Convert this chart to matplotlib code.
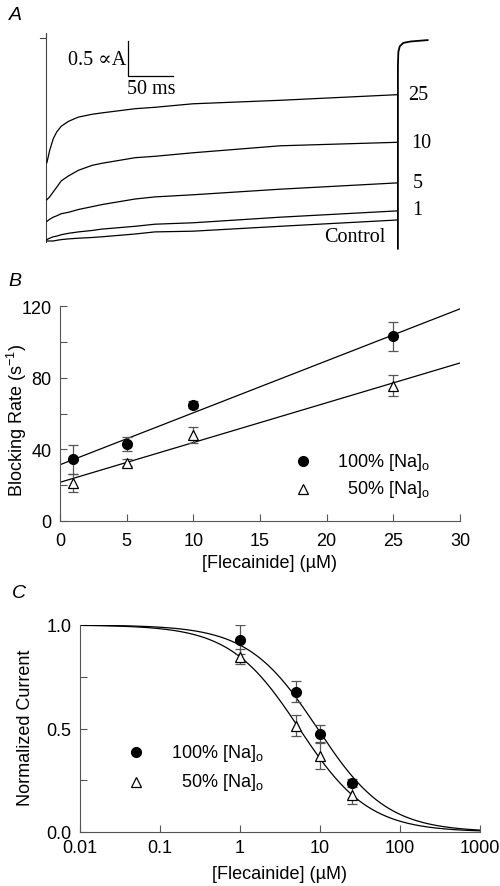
import numpy as np
import matplotlib
matplotlib.use("Agg")
import matplotlib.pyplot as plt

plt.rcParams['font.family'] = ['Liberation Sans', 'DejaVu Sans']
plt.rcParams['mathtext.fontset'] = 'custom'
plt.rcParams['mathtext.rm'] = 'Liberation Sans'
plt.rcParams['mathtext.it'] = 'Liberation Sans:italic'

# ---- Panel A: current traces (time in ms, current in uA) ----
t_trace = [1, 4, 8, 12, 17, 25, 36, 51, 62, 99, 121, 163, 260, 390]
i_25 = [-1.78, -1.61, -1.44, -1.34, -1.26, -1.19, -1.13, -1.09, -1.07, -1.01, -0.99, -0.94, -0.89, -0.81]
i_10 = [-2.31, -2.27, -2.20, -2.13, -2.04, -1.97, -1.89, -1.82, -1.79, -1.71, -1.69, -1.64, -1.54, -1.49]
i_5 = [-2.62, -2.59, -2.56, -2.54, -2.51, -2.49, -2.45, -2.41, -2.38, -2.30, -2.27, -2.24, -2.16, -2.07]
i_1 = [-2.88, -2.86, -2.84, -2.83, -2.81, -2.79, -2.77, -2.75, -2.73, -2.69, -2.66, -2.64, -2.56, -2.47]
i_ctrl = [-2.90, -2.90, -2.90, -2.89, -2.88, -2.87, -2.86, -2.85, -2.84, -2.80, -2.77, -2.76, -2.69, -2.60]
trace_labels = ['25', '10', '5', '1']

# onset and tail of the recording
onset_t = [-6.7, 0, 0, 0]
onset_i = [0, 0, 0.07, -2.92]
tail_t = [391, 391, 391.5, 393, 397, 405, 424]
tail_i = [-3.01, -0.40, -0.20, -0.12, -0.07, -0.05, -0.03]

# ---- Panel B: blocking rate ----
conc_b = [1, 5, 10, 25]
rate_100 = [34.5, 43, 65, 103]
rate_100_err = [8, 4, 2, 8]
rate_50 = [21, 32.5, 48, 75.5]
rate_50_err = [5, 2, 4.5, 6]
fit_b_100 = (31.4, 2.9)    # intercept, slope
fit_b_50 = (21.6, 2.22)

# ---- Panel C: normalized current ----
conc_c = [1, 5, 10, 25]
norm_100 = [0.929, 0.678, 0.473, 0.235]
norm_100_err = [0.07, 0.05, 0.045, 0.02]
norm_50 = [0.847, 0.513, 0.368, 0.18]
norm_50_err = [0.035, 0.05, 0.065, 0.045]
ic50_100, hill_100 = 9.3, 1.0
ic50_50, hill_50 = 5.5, 1.0

W, H = 500, 887
fig = plt.figure(figsize=(W / 100, H / 100), dpi=100)


def px_axes(x0, y0, x1, y1):
    return fig.add_axes([x0 / W, 1 - y1 / H, (x1 - x0) / W, (y1 - y0) / H])


serif = ['Liberation Serif', 'DejaVu Serif']
axcol = '#555555'

# Panel A
axA = px_axes(30, 30, 440, 255)
axA.set_xlim((30 - 46) / 0.9, (440 - 46) / 0.9)
axA.set_ylim((39 - 255) / 70, (39 - 30) / 70)
axA.axis('off')
axA.plot(onset_t, onset_i, color='#444444', lw=0.8)
for tr in [i_25, i_10, i_5, i_1, i_ctrl]:
    axA.plot(t_trace, tr, color='black', lw=0.9)
axA.plot(tail_t, tail_i, color='black', lw=1.3)
# scale bar 0.5 uA / 50 ms
axA.plot([91, 91, 141], [-0.04, -0.54, -0.54], color='black', lw=0.9)
axA.text(89, -0.31, '0.5 \u221dA', family=serif, fontsize=14.5, ha='right', va='center')
axA.text(117, -0.72, '50 ms', family=serif, fontsize=14.5, ha='center', va='center')
label_pos = [(413, i_25[-1]), (417, i_10[-1]), (413, i_5[-1]), (413, i_1[-1] + 0.02)]
for lab, (tx, ty) in zip(trace_labels, label_pos):
    axA.text(tx, ty, lab, family=serif, fontsize=14.5, ha='center', va='center')
axA.text(343, -2.83, 'Control', family=serif, fontsize=14.5, ha='center', va='center')

fs = 13
fig.text(15 / W, 1 - 16 / H, 'A', fontsize=14, style='italic', ha='center', va='center')
fig.text(15 / W, 1 - 281 / H, 'B', fontsize=14, style='italic', ha='center', va='center')
fig.text(19 / W, 1 - 593 / H, 'C', fontsize=14, style='italic', ha='center', va='center')


def style_axes(ax, xpad, ypad):
    ax.tick_params(axis='x', which='both', direction='in', length=5, width=0.8,
                   color=axcol, labelsize=fs, pad=xpad)
    ax.tick_params(axis='y', which='both', direction='in', length=5, width=0.8,
                   color=axcol, labelsize=fs, pad=ypad)
    for s in ['top', 'right']:
        ax.spines[s].set_visible(False)
    for s in ['left', 'bottom']:
        ax.spines[s].set_linewidth(0.8)
        ax.spines[s].set_color(axcol)


# Panel B
axB = px_axes(60, 307, 460, 522)
xf = np.array([0, 30])
axB.plot(xf, fit_b_100[0] + fit_b_100[1] * xf, color='black', lw=0.9)
axB.plot(xf, fit_b_50[0] + fit_b_50[1] * xf, color='black', lw=0.9)
axB.errorbar(conc_b, rate_100, yerr=rate_100_err, fmt='o', color='black', ms=7,
             ecolor='#555555', elinewidth=0.9, capsize=3.5, capthick=0.9, zorder=3)
axB.errorbar(conc_b, rate_50, yerr=rate_50_err, fmt='^', mfc='white', mec='black', ms=7.5,
             mew=0.9, ecolor='#555555', elinewidth=0.9, capsize=3.5, capthick=0.9, zorder=3)
axB.set_xlim(0, 30)
axB.set_ylim(0, 120)
axB.set_xticks(np.arange(0, 31, 5))
axB.set_yticks([0, 40, 80, 120])
axB.set_yticks([20, 60, 100], minor=True)
style_axes(axB, 8, 6)
axB.set_xlabel('[Flecainide] (\u00b5M)', fontsize=fs)
axB.set_ylabel('Blocking Rate (s$^{-1}$)', fontsize=fs)
axB.xaxis.set_label_coords(0.525, -0.155)
axB.yaxis.set_label_coords(-0.078, 0.474)
axB.plot([0.6075], [0.279], 'o', color='black', ms=7, transform=axB.transAxes, clip_on=False)
axB.plot([0.6075], [0.149], '^', mfc='white', mec='black', ms=7.5, mew=0.9,
         transform=axB.transAxes, clip_on=False)
axB.text(0.925, 0.279, '100% [Na]$_\\mathrm{o}$', fontsize=fs, ha='right', va='center',
         transform=axB.transAxes)
axB.text(0.925, 0.149, '50% [Na]$_\\mathrm{o}$', fontsize=fs, ha='right', va='center',
         transform=axB.transAxes)

# Panel C
axC = px_axes(80, 626, 480, 833)
xc = np.logspace(-2, 3, 400)
axC.plot(xc, 1 / (1 + (xc / ic50_100) ** hill_100), color='black', lw=0.9)
axC.plot(xc, 1 / (1 + (xc / ic50_50) ** hill_50), color='black', lw=0.9)
axC.errorbar(conc_c, norm_100, yerr=norm_100_err, fmt='o', color='black', ms=7,
             ecolor='#555555', elinewidth=0.9, capsize=3.5, capthick=0.9, zorder=3)
axC.errorbar(conc_c, norm_50, yerr=norm_50_err, fmt='^', mfc='white', mec='black', ms=7.5,
             mew=0.9, ecolor='#555555', elinewidth=0.9, capsize=3.5, capthick=0.9, zorder=3)
axC.set_xscale('log')
axC.set_xlim(0.01, 1000)
axC.set_ylim(0, 1.0)
axC.set_xticks([0.01, 0.1, 1, 10, 100, 1000])
axC.set_xticklabels(['0.01', '0.1', '1', '10', '100', '1000'])
axC.xaxis.set_minor_locator(matplotlib.ticker.NullLocator())
axC.set_yticks([0.0, 0.5, 1.0])
axC.set_yticklabels(['0.0', '0.5', '1.0'])
axC.set_yticks([0.25, 0.75], minor=True)
style_axes(axC, 5, 6)
axC.set_xlabel('[Flecainide] (\u00b5M)', fontsize=fs)
axC.set_ylabel('Normalized Current', fontsize=fs)
axC.xaxis.set_label_coords(0.5, -0.16)
axC.yaxis.set_label_coords(-0.115, 0.507)
axC.plot([0.14], [0.386], 'o', color='black', ms=7, transform=axC.transAxes, clip_on=False)
axC.plot([0.14], [0.242], '^', mfc='white', mec='black', ms=7.5, mew=0.9,
         transform=axC.transAxes, clip_on=False)
axC.text(0.46, 0.386, '100% [Na]$_\\mathrm{o}$', fontsize=fs, ha='right', va='center',
         transform=axC.transAxes)
axC.text(0.46, 0.242, '50% [Na]$_\\mathrm{o}$', fontsize=fs, ha='right', va='center',
         transform=axC.transAxes)

fig.savefig('out.png', dpi=100)
